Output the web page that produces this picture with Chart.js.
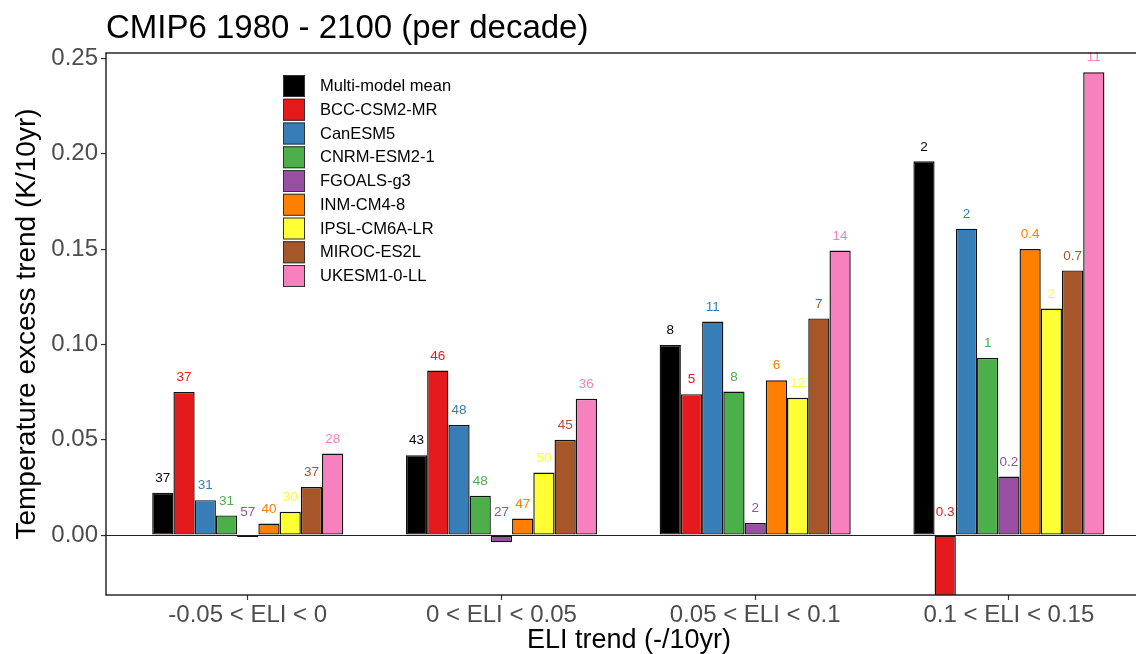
<!DOCTYPE html>
<html>
<head>
<meta charset="utf-8">
<script src="https://cdn.jsdelivr.net/npm/chart.js@4/dist/chart.umd.min.js"></script>
<style>
  html, body { margin: 0; padding: 0; background: #fff; overflow: hidden; width: 1136px; height: 654px; }
  #wrap { position: relative; width: 1136px; height: 654px; overflow: hidden; }
  canvas { display: block; }
</style>
</head>
<body>
<div id="wrap"><canvas id="c" width="1152" height="654"></canvas></div>
<script>
const chartTitle = 'CMIP6 1980 - 2100 (per decade)';
const xTitle = 'ELI trend (-/10yr)';
const yTitle = 'Temperature excess trend (K/10yr)';

const categories = ['-0.05 < ELI < 0', '0 < ELI < 0.05', '0.05 < ELI < 0.1', '0.1 < ELI < 0.15'];
const yTicks = [0, 0.05, 0.10, 0.15, 0.20, 0.25];

const models = ['Multi-model mean', 'BCC-CSM2-MR', 'CanESM5', 'CNRM-ESM2-1', 'FGOALS-g3',
                'INM-CM4-8', 'IPSL-CM6A-LR', 'MIROC-ES2L', 'UKESM1-0-LL'];
const colors = ['#000000', '#E41A1C', '#377EB8', '#4DAF4A', '#984EA3',
                '#FF7F00', '#FFFF33', '#A65628', '#F781BF'];

// trend values per model, one per ELI category
const meanVals   = [0.0222, 0.0419, 0.0997, 0.1960];
const bccVals    = [0.0751, 0.0863, 0.0739, -0.0400];
const canVals    = [0.0183, 0.0577, 0.1120, 0.1607];
const cnrmVals   = [0.0103, 0.0206, 0.0753, 0.0929];
const fgoalsVals = [-0.0010, -0.0038, 0.0063, 0.0307];
const inmVals    = [0.0061, 0.0087, 0.0812, 0.1500];
const ipslVals   = [0.0122, 0.0328, 0.0720, 0.1188];
const mirocVals  = [0.0252, 0.0500, 0.1136, 0.1388];
const ukesmVals  = [0.0428, 0.0715, 0.1492, 0.2427];

// numbers printed above bars
const meanLbl   = ['37', '43', '8', '2'];
const bccLbl    = ['37', '46', '5', '0.3'];
const canLbl    = ['31', '48', '11', '2'];
const cnrmLbl   = ['31', '48', '8', '1'];
const fgoalsLbl = ['57', '27', '2', '0.2'];
const inmLbl    = ['40', '47', '6', '0.4'];
const ipslLbl   = ['30', '50', '12', '2'];
const mirocLbl  = ['37', '45', '7', '0.7'];
const ukesmLbl  = ['28', '36', '14', '11'];

const seriesVals = [meanVals, bccVals, canVals, cnrmVals, fgoalsVals, inmVals, ipslVals, mirocVals, ukesmVals];
const seriesLbl  = [meanLbl, bccLbl, canLbl, cnrmLbl, fgoalsLbl, inmLbl, ipslLbl, mirocLbl, ukesmLbl];

const FONT = '"Liberation Sans", Arial, Helvetica, sans-serif';
Chart.defaults.font.family = FONT;

const datasets = models.map((m, i) => ({
  label: m,
  data: seriesVals[i].map((v, j) => ({ x: j, y: v })),
  backgroundColor: colors[i],
  borderColor: '#111',
  borderWidth: 1.4,
  borderSkipped: false,
  categoryPercentage: 0.753,
  barPercentage: 1.0
}));

const extras = {
  id: 'extras',
  afterDatasetsDraw(chart) {
    const ctx = chart.ctx;
    const ys = chart.scales.y;
    const zero = ys.getPixelForValue(0);
    ctx.save();
    ctx.font = '13.5px ' + FONT;
    ctx.textAlign = 'center';
    ctx.textBaseline = 'middle';
    chart.data.datasets.forEach((ds, i) => {
      const meta = chart.getDatasetMeta(i);
      meta.data.forEach((el, j) => {
        const v = seriesVals[i][j];
        const y = v >= 0 ? el.y - 14.5 : zero - 23;
        ctx.fillStyle = colors[i];
        ctx.fillText(seriesLbl[i][j], el.x, y);
      });
    });
    ctx.restore();
  },
  afterDraw(chart) {
    const ctx = chart.ctx;
    const a = chart.chartArea;
    ctx.save();
    // panel border
    ctx.strokeStyle = '#1a1a1a';
    ctx.lineWidth = 1.4;
    ctx.strokeRect(a.left, a.top, a.right - a.left, a.bottom - a.top);
    // title
    ctx.fillStyle = '#000';
    ctx.font = '33px ' + FONT;
    ctx.textAlign = 'left';
    ctx.textBaseline = 'alphabetic';
    ctx.fillText(chartTitle, a.left, 37.5);
    // legend
    const lx = 283, ly0 = 75, step = 23.75, sw = 22;
    ctx.font = '16.5px ' + FONT;
    ctx.textBaseline = 'middle';
    chart.data.datasets.forEach((ds, i) => {
      const y = ly0 + i * step;
      ctx.fillStyle = ds.backgroundColor;
      ctx.fillRect(lx, y, sw, sw);
      ctx.strokeStyle = '#333';
      ctx.lineWidth = 1;
      ctx.strokeRect(lx + 0.5, y + 0.5, sw - 1, sw - 1);
      ctx.fillStyle = '#000';
      ctx.fillText(ds.label, 320, y + sw / 2 + 0.5);
    });
    ctx.restore();
  }
};

new Chart(document.getElementById('c'), {
  type: 'bar',
  data: { datasets },
  options: {
    responsive: false,
    animation: false,
    layout: { padding: { top: 53, left: 0, right: 0, bottom: 0 } },
    plugins: { legend: { display: false }, tooltip: { enabled: false }, title: { display: false } },
    scales: {
      x: {
        type: 'linear',
        offset: false,
        min: -0.5586,
        max: 3.564,
        afterBuildTicks: (s) => { s.ticks = categories.map((c, i) => ({ value: i })); },
        afterFit: (s) => { s.height = 59; },
        ticks: {
          callback: (v, i) => categories[i],
          color: '#4D4D4D',
          font: { size: 24 },
          padding: 1,
          maxRotation: 0,
          autoSkip: false
        },
        grid: { display: true, drawOnChartArea: false, tickLength: 5, tickColor: '#333', tickWidth: 1.2, offset: false },
        border: { display: false },
        title: { display: true, text: xTitle, color: '#000', font: { size: 27, lineHeight: 1 }, padding: { top: 0, bottom: 0 } }
      },
      y: {
        min: -0.0314,
        max: 0.2528,
        afterBuildTicks: (s) => { s.ticks = yTicks.map(v => ({ value: v })); },
        afterFit: (s) => { s.width = 106; },
        ticks: {
          callback: (v) => v.toFixed(2),
          color: '#4D4D4D',
          font: { size: 24 },
          padding: 3
        },
        grid: {
          drawOnChartArea: true,
          tickLength: 5,
          color: (c) => (c.tick && c.tick.value === 0 ? '#222' : 'rgba(0,0,0,0)'),
          lineWidth: 1.1,
          tickColor: '#333',
          tickWidth: 1.2
        },
        border: { display: false },
        title: { display: true, text: yTitle, color: '#000', font: { size: 28, lineHeight: 1.2 }, padding: { top: 10, bottom: 0 } }
      }
    }
  },
  plugins: [extras]
});
</script>
</body>
</html>
